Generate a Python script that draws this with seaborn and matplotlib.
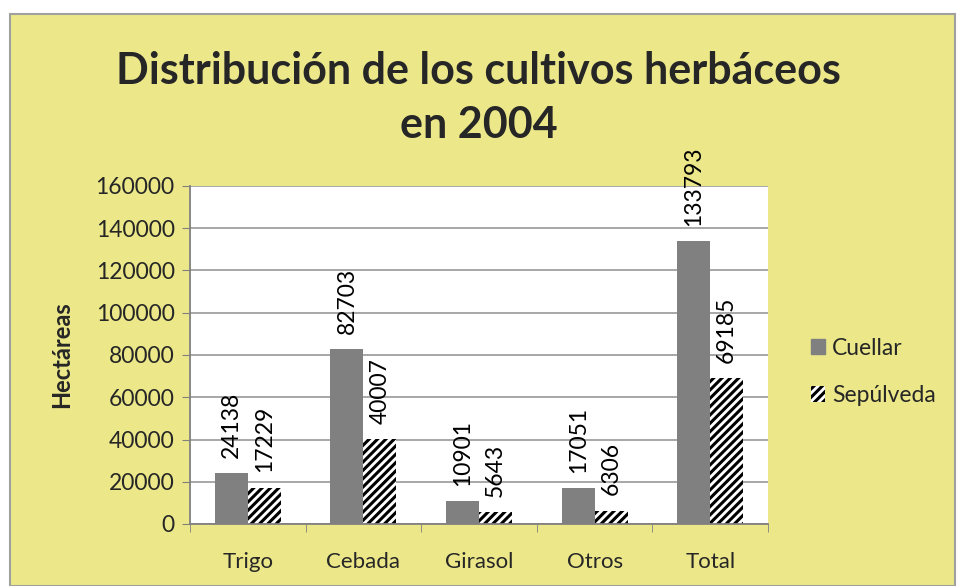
import pandas as pd
import matplotlib.pyplot as plt
import seaborn as sns
from matplotlib.patches import Rectangle, Patch

# Data
cultivos = ["Trigo", "Cebada", "Girasol", "Otros", "Total"]
cuellar = [24138, 82703, 10901, 17051, 133793]
sepulveda = [17229, 40007, 5643, 6306, 69185]
series = ["Cuellar", "Sepúlveda"]

df = pd.DataFrame({
    "cultivo": cultivos * 2,
    "zona": [series[0]] * len(cultivos) + [series[1]] * len(cultivos),
    "hectareas": cuellar + sepulveda,
})

sns.set_style("white")
plt.rcParams["font.family"] = ["Lato", "DejaVu Sans"]
plt.rcParams["hatch.linewidth"] = 2.2

yellow = "#ECE88A"
grey = "#808080"

fig = plt.figure(figsize=(9.57, 5.86), dpi=100)
fig.patch.set_facecolor("white")
fig.patches.append(Rectangle((10 / 957, 0), 945 / 957, 1 - 14 / 586,
                             transform=fig.transFigure, facecolor=yellow,
                             edgecolor="#A0A0A0", linewidth=1.5, zorder=-10))

ax = fig.add_axes([190 / 957, 1 - 524 / 586, 578 / 957, 338 / 586])
ax.set_facecolor("white")

sns.barplot(data=df, x="cultivo", y="hectareas", hue="zona", order=cultivos,
            hue_order=series, palette=[grey, "white"], width=0.57,
            saturation=1, ax=ax, legend=False, linewidth=0)

for bar in ax.containers[1]:
    bar.set_hatch("////")
    bar.set_edgecolor("black")
    bar.set_linewidth(0)

for cont in ax.containers:
    ax.bar_label(cont, labels=[str(int(b.get_height())) for b in cont],
                 rotation=90, padding=11, fontsize=16.5, color="black")

ax.set_ylim(0, 160000)
ax.set_yticks(range(0, 160001, 20000))
ax.yaxis.grid(True, color="#A0A0A0", linewidth=1.3)
ax.set_axisbelow(True)
ax.tick_params(axis="y", labelsize=16.5, length=6, color=grey, direction="out", left=True, pad=5)
ax.tick_params(axis="x", labelsize=16, length=0, pad=20)
ax.set_xticks([i + 0.5 for i in range(-1, len(cultivos))], minor=True)
ax.tick_params(axis="x", which="minor", length=6, color=grey, direction="out", bottom=True)
ax.set_xlim(-0.5, len(cultivos) - 0.5)

for side in ["top", "right"]:
    ax.spines[side].set_visible(False)
for side in ["left", "bottom"]:
    ax.spines[side].set_color(grey)
    ax.spines[side].set_linewidth(1.3)

ax.set_xlabel("")
ax.set_ylabel("Hectáreas", fontsize=17, fontweight="bold", labelpad=16)

fig.text(0.5, 1 - 98 / 586, "Distribución de los cultivos herbáceos\nen 2004",
         ha="center", va="center", fontsize=31, fontweight="bold", linespacing=1.45)

handles = [Patch(facecolor=grey, edgecolor=grey),
           Patch(facecolor="white", edgecolor="black", hatch="////", linewidth=0)]
fig.legend(handles, series, loc="center left", bbox_to_anchor=(806 / 957, 1 - 372 / 586),
           frameon=False, fontsize=16.5, handlelength=0.65, handleheight=0.65,
           handletextpad=0.3, labelspacing=1.15, borderaxespad=0, borderpad=0.2)

plt.savefig("out.png", dpi=100, facecolor=fig.get_facecolor())
